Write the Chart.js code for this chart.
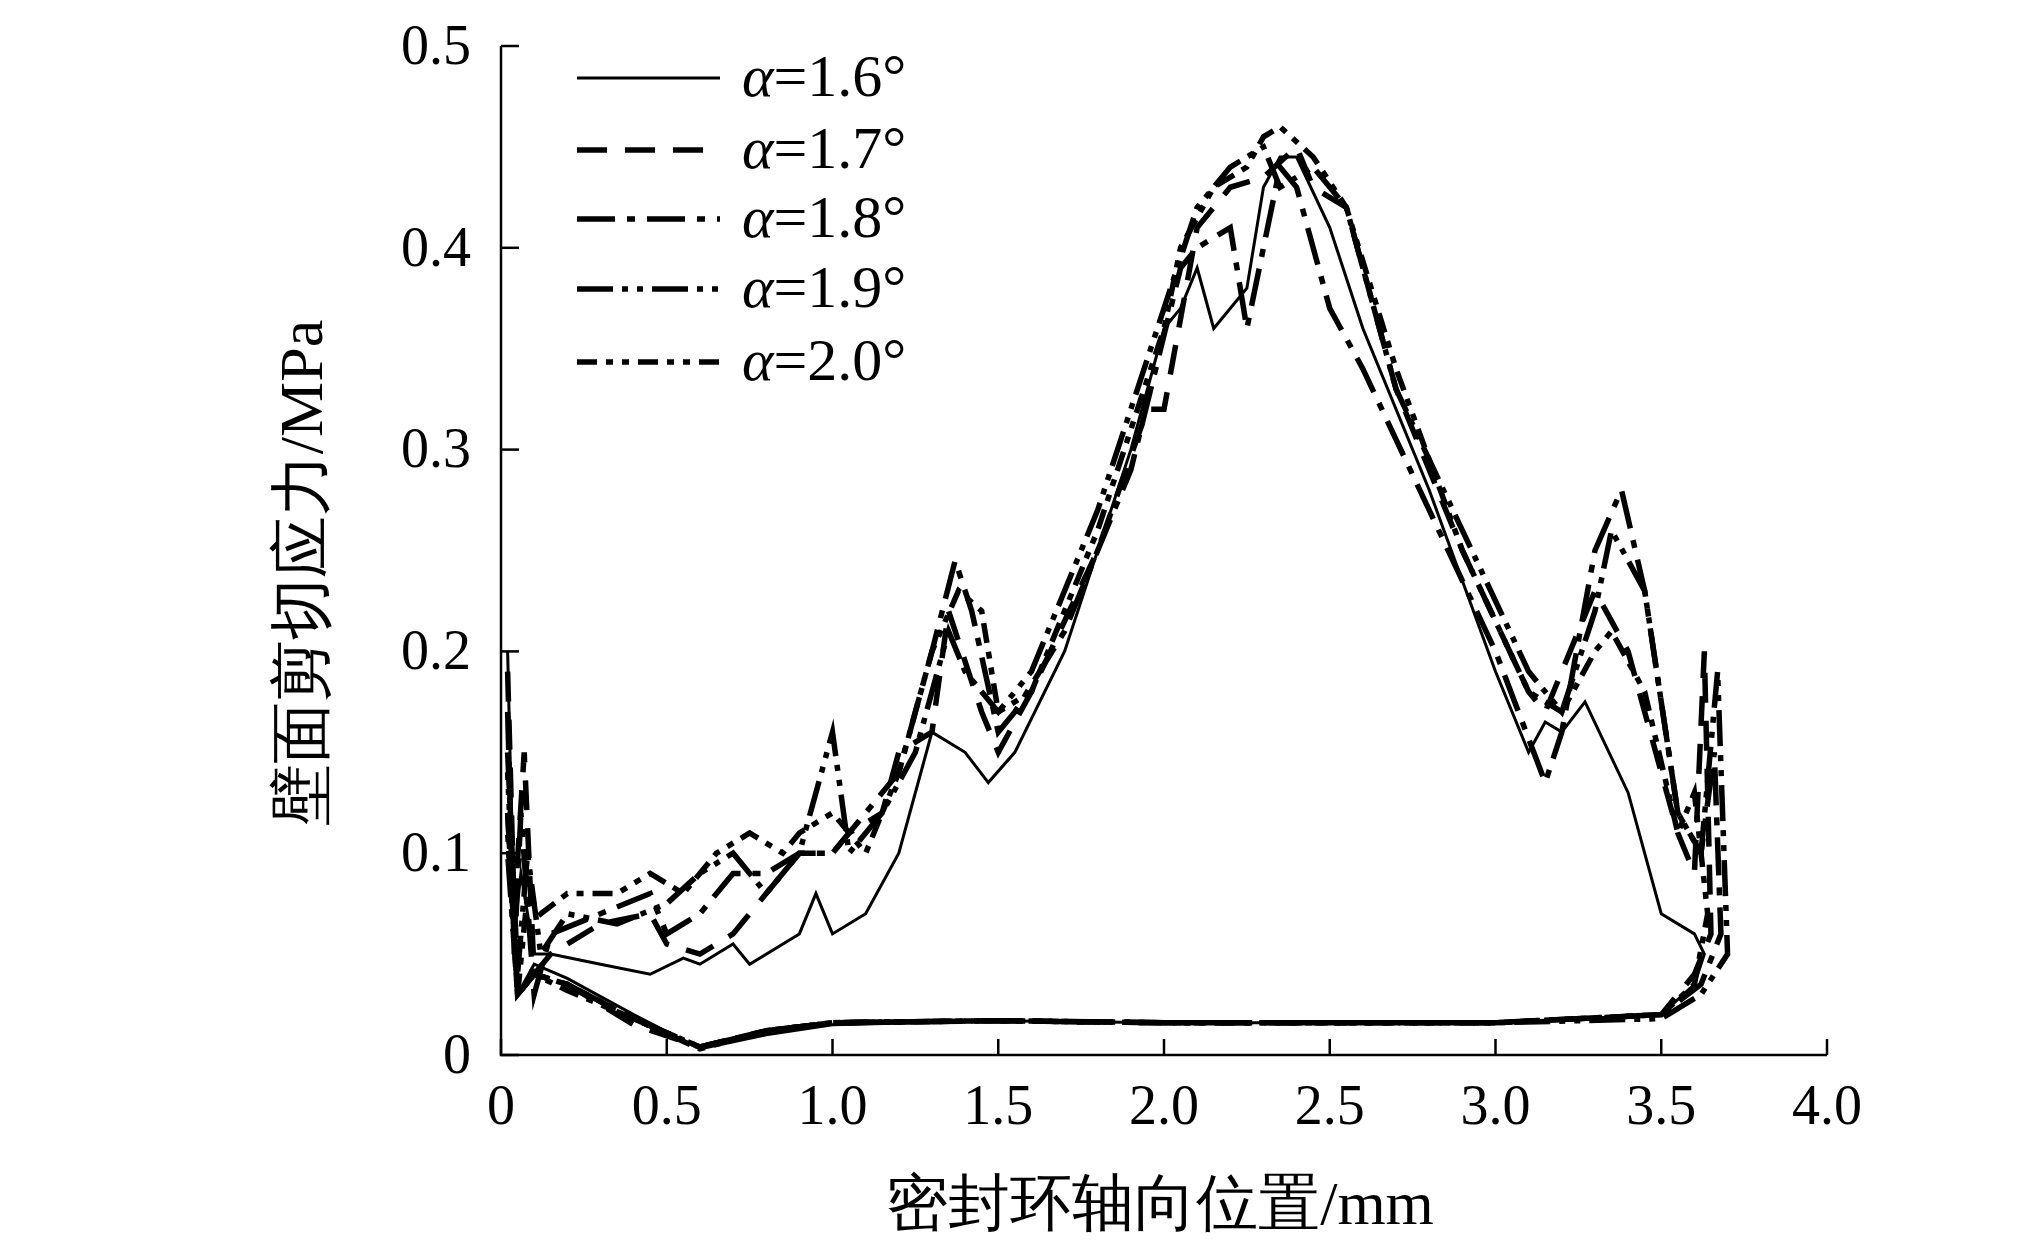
<!DOCTYPE html>
<html>
<head>
<meta charset="utf-8">
<script src="https://cdn.jsdelivr.net/npm/chart.js@4/dist/chart.umd.min.js"></script>
<style>
  html, body { margin: 0; padding: 0; background: #fff; }
  #wrap { width: 2031px; height: 1252px; }
</style>
</head>
<body>
<div id="wrap"><canvas id="c"></canvas></div>
<script>
// tick labels
const xTicks = [0, 0.5, 1.0, 1.5, 2.0, 2.5, 3.0, 3.5, 4.0];
const xTickLabels = ["0", "0.5", "1.0", "1.5", "2.0", "2.5", "3.0", "3.5", "4.0"];
const yTicks = [0, 0.1, 0.2, 0.3, 0.4, 0.5];
const yTickLabels = ["0", "0.1", "0.2", "0.3", "0.4", "0.5"];

const seriesNames = ["1.6°", "1.7°", "1.8°", "1.9°", "2.0°"];

// each curve is a loop: upper branch left->right, then lower branch back
const a16x = [0.02,0.04,0.06,0.1,0.15,0.3,0.45,0.55,0.6,0.7,0.75,0.9,0.95,1.0,1.1,1.2,1.3,1.4,1.47,1.55,1.7,1.9,2.0,2.05,2.1,2.15,2.25,2.3,2.35,2.4,2.5,2.6,2.8,3.0,3.1,3.15,3.2,3.27,3.4,3.5,3.6,3.63,3.6,3.5,3.0,2.5,2.0,1.5,1.0,0.8,0.6,0.4,0.2,0.1,0.05,0.02];
const a16y = [0.20,0.06,0.09,0.05,0.05,0.045,0.04,0.048,0.045,0.055,0.045,0.06,0.08,0.06,0.07,0.10,0.16,0.15,0.135,0.15,0.20,0.30,0.36,0.37,0.39,0.36,0.38,0.43,0.445,0.445,0.41,0.36,0.28,0.19,0.15,0.165,0.16,0.175,0.13,0.07,0.06,0.05,0.035,0.02,0.016,0.016,0.016,0.017,0.015,0.01,0.003,0.02,0.038,0.045,0.03,0.1];

const a17x = [0.02,0.04,0.07,0.1,0.15,0.3,0.45,0.5,0.6,0.7,0.8,0.9,1.0,1.05,1.15,1.2,1.3,1.35,1.45,1.5,1.6,1.8,1.95,2.0,2.1,2.2,2.3,2.4,2.45,2.55,2.7,2.9,3.1,3.15,3.2,3.3,3.4,3.55,3.6,3.63,3.65,3.6,3.5,3.0,2.5,2.0,1.5,1.0,0.8,0.6,0.4,0.2,0.1,0.05,0.02];
const a17y = [0.19,0.07,0.15,0.04,0.05,0.065,0.07,0.055,0.05,0.06,0.08,0.10,0.10,0.11,0.12,0.15,0.16,0.22,0.17,0.15,0.18,0.25,0.32,0.32,0.41,0.43,0.435,0.45,0.43,0.42,0.33,0.25,0.18,0.17,0.19,0.23,0.20,0.11,0.09,0.2,0.06,0.04,0.02,0.016,0.016,0.016,0.017,0.016,0.012,0.004,0.015,0.035,0.04,0.03,0.12];

const a18x = [0.02,0.04,0.06,0.1,0.15,0.3,0.45,0.5,0.6,0.7,0.8,0.9,1.0,1.1,1.2,1.3,1.37,1.42,1.5,1.55,1.7,1.9,2.05,2.1,2.2,2.25,2.35,2.4,2.5,2.6,2.8,3.0,3.15,3.2,3.3,3.38,3.45,3.55,3.62,3.66,3.68,3.62,3.5,3.0,2.5,2.0,1.5,1.0,0.8,0.6,0.4,0.2,0.1,0.05,0.02];
const a18y = [0.17,0.05,0.12,0.03,0.06,0.07,0.08,0.06,0.07,0.09,0.09,0.10,0.10,0.12,0.14,0.20,0.245,0.22,0.16,0.17,0.21,0.29,0.39,0.40,0.41,0.36,0.44,0.43,0.37,0.34,0.27,0.20,0.135,0.16,0.25,0.28,0.23,0.12,0.1,0.15,0.06,0.035,0.02,0.016,0.016,0.016,0.017,0.016,0.012,0.004,0.018,0.035,0.04,0.03,0.1];

const a19x = [0.02,0.05,0.08,0.12,0.2,0.35,0.5,0.6,0.7,0.8,0.9,0.95,1.0,1.05,1.15,1.25,1.35,1.4,1.45,1.5,1.6,1.8,2.0,2.1,2.2,2.3,2.35,2.45,2.55,2.7,2.9,3.1,3.2,3.3,3.35,3.45,3.55,3.62,3.67,3.7,3.62,3.5,3.0,2.5,2.0,1.5,1.0,0.8,0.6,0.4,0.2,0.1,0.05,0.02];
const a19y = [0.15,0.04,0.10,0.05,0.07,0.065,0.075,0.09,0.10,0.08,0.10,0.13,0.16,0.10,0.12,0.15,0.21,0.19,0.18,0.17,0.19,0.27,0.37,0.42,0.44,0.45,0.43,0.44,0.42,0.33,0.26,0.19,0.17,0.22,0.26,0.23,0.12,0.10,0.19,0.05,0.03,0.018,0.016,0.016,0.016,0.017,0.016,0.012,0.004,0.018,0.035,0.04,0.03,0.14];

const a20x = [0.02,0.05,0.08,0.12,0.2,0.35,0.45,0.55,0.65,0.75,0.85,0.9,1.0,1.1,1.2,1.3,1.38,1.45,1.5,1.6,1.8,2.0,2.05,2.15,2.25,2.3,2.35,2.45,2.55,2.7,2.9,3.1,3.2,3.3,3.35,3.45,3.55,3.6,3.64,3.6,3.5,3.0,2.5,2.0,1.5,1.0,0.8,0.6,0.4,0.2,0.1,0.05,0.02];
const a20y = [0.12,0.03,0.08,0.07,0.08,0.08,0.09,0.08,0.10,0.11,0.10,0.11,0.12,0.10,0.14,0.20,0.23,0.22,0.17,0.18,0.26,0.36,0.40,0.43,0.44,0.455,0.46,0.445,0.42,0.34,0.25,0.18,0.17,0.20,0.21,0.18,0.11,0.13,0.07,0.035,0.02,0.016,0.016,0.016,0.017,0.016,0.012,0.003,0.018,0.032,0.04,0.03,0.11];

const xs = [a16x, a17x, a18x, a19x, a20x];
const ys = [a16y, a17y, a18y, a19y, a20y];
const dashes = [[], [30, 18], [38, 12, 8, 12], [36, 9, 6, 9, 6, 9], [20, 9, 7, 9, 7, 9]];
const widths = [3, 5.5, 5.5, 5.5, 5.5];

const datasets = xs.map((xarr, i) => ({
  label: seriesNames[i],
  data: xarr.map((x, j) => ({ x, y: ys[i][j] })),
  showLine: true,
  borderColor: "#000",
  borderWidth: widths[i],
  borderDash: dashes[i],
  pointRadius: 0,
  fill: false,
  tension: 0
}));

const serif = "'Liberation Serif', 'Times New Roman', serif";

const axesPlugin = {
  id: "axesPlugin",
  afterDraw(chart) {
    const ctx = chart.ctx;
    const xs_ = chart.scales.x, ys_ = chart.scales.y;
    const area = chart.chartArea;
    ctx.save();
    ctx.strokeStyle = "#000";
    ctx.fillStyle = "#000";
    ctx.lineWidth = 2.5;
    ctx.beginPath();
    ctx.moveTo(area.left, area.top);
    ctx.lineTo(area.left, area.bottom);
    ctx.lineTo(area.right, area.bottom);
    ctx.stroke();
    ctx.font = "56px " + serif;
    ctx.textAlign = "center";
    ctx.textBaseline = "top";
    xTicks.forEach((v, i) => {
      const px = xs_.getPixelForValue(v);
      ctx.beginPath();
      ctx.moveTo(px, area.bottom);
      ctx.lineTo(px, area.bottom - 16);
      ctx.stroke();
      ctx.fillText(xTickLabels[i], px, area.bottom + 26);
    });
    ctx.textAlign = "right";
    ctx.textBaseline = "middle";
    yTicks.forEach((v, i) => {
      const py = ys_.getPixelForValue(v);
      ctx.beginPath();
      ctx.moveTo(area.left, py);
      ctx.lineTo(area.left + 18, py);
      ctx.stroke();
      ctx.fillText(yTickLabels[i], area.left - 30, py + 3);
    });
    // axis titles
    ctx.font = "62px " + serif;
    ctx.textAlign = "center";
    ctx.textBaseline = "middle";
    ctx.fillText("密封环轴向位置/mm", 1160, 1208);
    ctx.save();
    ctx.translate(306, 573);
    ctx.rotate(-Math.PI / 2);
    ctx.fillText("壁面剪切应力/MPa", 0, 0);
    ctx.restore();
    // legend
    const rows = [78, 150, 219, 289, 362];
    seriesNames.forEach((name, i) => {
      ctx.save();
      ctx.lineWidth = widths[i];
      ctx.setLineDash(dashes[i]);
      ctx.beginPath();
      ctx.moveTo(577, rows[i]);
      ctx.lineTo(720, rows[i]);
      ctx.stroke();
      ctx.restore();
      ctx.textAlign = "left";
      ctx.font = "italic 60px " + serif;
      ctx.fillText("α", 742, rows[i] + 2);
      const w = ctx.measureText("α").width;
      ctx.font = "60px " + serif;
      ctx.fillText("=" + name, 742 + w, rows[i] + 2);
    });
    ctx.restore();
  }
};

new Chart(document.getElementById("c"), {
  type: "scatter",
  data: { datasets },
  options: {
    responsive: true,
    maintainAspectRatio: false,
    animation: false,
    layout: { padding: { left: 501, right: 204, top: 46, bottom: 197 } },
    plugins: { legend: { display: false }, tooltip: { enabled: false } },
    scales: {
      x: { type: "linear", min: 0, max: 4, display: false },
      y: { type: "linear", min: 0, max: 0.5, display: false }
    }
  },
  plugins: [axesPlugin]
});
</script>
</body>
</html>
